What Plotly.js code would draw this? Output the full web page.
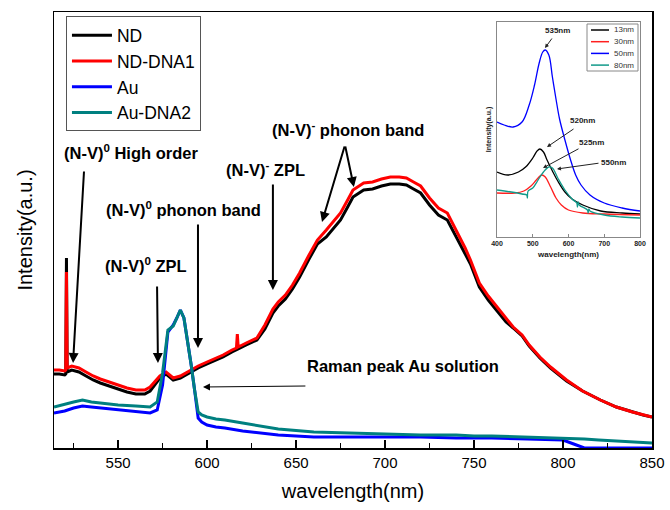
<!DOCTYPE html>
<html>
<head>
<meta charset="utf-8">
<script src="https://cdn.plot.ly/plotly-3.0.1.min.js"></script>
<style>
html,body{margin:0;padding:0;background:#fff;}
#chart{width:670px;height:510px;}
</style>
</head>
<body>
<div id="chart"></div>
<script>
// ---------- Main spectra data ----------
var ndWavelength = [514, 517, 520, 520.6, 521, 521.4, 524, 528, 532, 536, 540, 545, 550, 555, 560, 565, 568, 573.5, 577, 581, 585, 590, 595, 600, 605, 609, 614, 616.5, 617, 617.5, 622, 628, 632.5, 637, 640, 644, 648, 652, 657, 662, 667, 671, 675, 679, 682, 688, 693, 698, 703, 708, 712, 716, 720, 725, 730, 735, 740, 745, 748, 753, 758, 763, 768, 772, 777, 781, 787, 793, 802, 811, 821, 830, 839, 845, 850];
var ndIntensity = [74, 74, 73, 74, 190, 76, 78, 76, 72, 68, 65, 62, 59, 56, 54, 54, 57, 70, 74, 68, 70, 75, 80, 84, 88, 91, 96, 98, 98, 99, 103, 108, 119, 135, 142, 149, 159, 171, 188, 204, 211, 219, 228, 241, 251, 258, 259, 262, 264, 264, 263, 259, 255, 243, 233, 228, 211, 193, 184, 161, 148, 137, 126, 120, 112, 102, 90, 80, 67, 57, 48, 41, 36, 33, 31];
var ndDna1Intensity = [78, 78, 77, 78, 176, 80, 82, 80, 76, 72, 69, 66, 63, 60, 58, 58, 61, 72, 76, 70, 72, 77, 82, 86, 90, 93, 98, 100, 114, 101, 105, 110, 123, 139, 146, 153, 163, 175, 192, 208, 218, 226, 235, 248, 258, 265, 266, 269, 271, 271, 270, 266, 262, 250, 240, 235, 218, 200, 188, 165, 152, 141, 130, 121, 113, 103, 91, 81, 68, 57, 48, 41, 36, 33, 31];

var auWavelength = [514, 520, 525, 530, 535, 540, 550, 560, 568, 572, 575, 578, 581, 583, 585, 587, 589, 591, 593, 595, 597, 600, 605, 610, 620, 630, 640, 660, 680, 700, 720, 740, 750, 760, 780, 800, 806, 812, 820, 830, 840, 850];
var auIntensity = [35, 37, 40, 42, 41, 40, 38, 36, 35, 38, 63, 116, 123, 130, 138, 130, 108, 84, 58, 30, 26, 23, 21, 20, 17, 15, 13, 11, 11, 11, 11, 10, 10, 10, 9, 8, 4, 0, 0, 0, 0, 0];
var auDna2Intensity = [41, 44, 46, 48, 46, 45, 43, 42, 41, 46, 75, 118, 122, 130, 138, 130, 108, 84, 58, 36, 33, 31, 29, 28, 25, 22, 19, 16, 15, 14, 13, 13, 12, 12, 11, 10, 10, 9, 8, 7, 6, 5];

var mainNames = ["ND", "ND-DNA1", "Au", "Au-DNA2"];
var mainColors = ["#000000", "#ff0000", "#0000ff", "#008080"];

// ---------- Inset (absorption) data ----------
var inset13Wl = [400, 430, 460, 480, 500, 512, 520, 530, 540, 555, 570, 590, 610, 640, 690, 750, 800];
var inset13Val = [65, 62, 65, 70, 79, 86, 88, 85, 77, 66, 56, 45, 38, 32, 26, 24, 23];
var inset30Wl = [400, 450, 475, 495, 510, 525, 535, 550, 565, 580, 600, 640, 700, 800];
var inset30Val = [44, 44, 46, 51, 57, 62, 60, 50, 39, 32, 27, 24, 23, 22];
var inset50Wl = [400, 420, 445, 470, 490, 505, 518, 528, 535, 545, 555, 565, 575, 590, 605, 620, 635, 660, 700, 750, 800];
var inset50Val = [115, 112, 110, 115, 132, 152, 174, 185, 187, 182, 160, 138, 118, 97, 78, 62, 52, 42, 34, 29, 26];
var inset80Wl = [400, 440, 470, 483, 485, 487, 500, 515, 530, 545, 555, 570, 590, 610, 623, 625, 627, 630, 653, 655, 657, 660, 700, 750, 800];
var inset80Val = [47, 45, 43, 42, 39, 46, 49, 57, 65, 70, 69, 59, 47, 38, 34, 30, 35, 32, 27, 24, 28, 26, 22, 20, 19];
var insetNames = ["13nm", "30nm", "50nm", "80nm"];
var insetColors = ["#000000", "#ff2020", "#0000ff", "#119a8a"];

var FONT = "Liberation Sans, Arial, sans-serif";

var traces = [
  {x: ndWavelength, y: ndIntensity, name: mainNames[0], type: "scatter", mode: "lines", line: {color: mainColors[0], width: 3}},
  {x: ndWavelength, y: ndDna1Intensity, name: mainNames[1], type: "scatter", mode: "lines", line: {color: mainColors[1], width: 3}},
  {x: auWavelength, y: auIntensity, name: mainNames[2], type: "scatter", mode: "lines", line: {color: mainColors[2], width: 3}},
  {x: auWavelength, y: auDna2Intensity, name: mainNames[3], type: "scatter", mode: "lines", line: {color: mainColors[3], width: 3}}
];
var insetWls = [inset13Wl, inset30Wl, inset50Wl, inset80Wl];
var insetVals = [inset13Val, inset30Val, inset50Val, inset80Val];
for (var i = 0; i < 4; i++) {
  traces.push({x: insetWls[i], y: insetVals[i], name: insetNames[i], xaxis: "x2", yaxis: "y2",
    type: "scatter", mode: "lines", showlegend: false, line: {color: insetColors[i], width: 1.3, shape: "spline"}});
}
// invisible carrier trace for the minor-tick overlay axis
traces.push({x: [ndWavelength[0]], y: [ndIntensity[0]], xaxis: "x3", yaxis: "y", type: "scatter",
  mode: "none", showlegend: false, hoverinfo: "skip"});

function arrow(x, y, ax, ay, w, hs) {
  return {x: x, y: y, ax: ax, ay: ay, xref: "x", yref: "y", axref: "x", ayref: "y",
    text: "", showarrow: true, arrowhead: 2, arrowsize: hs || 1, arrowwidth: w || 2, arrowcolor: "#000"};
}
function label(x, y, t, size) {
  return {x: x, y: y, xref: "x", yref: "y", text: "<b>" + t + "</b>", showarrow: false,
    font: {family: FONT, size: size || 16.5, color: "#000"}, xanchor: "center", yanchor: "middle"};
}
function ilabel(x, y, t) {
  return {x: x, y: y, xref: "x2", yref: "y2", text: "<b>" + t + "</b>", showarrow: false,
    font: {family: FONT, size: 8, color: "#222"}, xanchor: "center", yanchor: "middle"};
}
function iarrow(x, y, ax, ay) {
  return {x: x, y: y, ax: ax, ay: ay, xref: "x2", yref: "y2", axref: "x2", ayref: "y2",
    text: "", showarrow: true, arrowhead: 2, arrowsize: 0.8, arrowwidth: 1, arrowcolor: "#222"};
}

var annotations = [
  label(557.3, 296, "(N-V)<sup>0</sup> High order"),
  arrow(524.7, 85, 530.9, 278),
  label(586.5, 239, "(N-V)<sup>0</sup> phonon band"),
  arrow(594.9, 100, 594.9, 225),
  label(565.7, 183, "(N-V)<sup>0</sup> ZPL"),
  arrow(572.4, 85, 571.9, 163),
  label(633.1, 279, "(N-V)<sup>-</sup> ZPL"),
  arrow(637.0, 158, 637.0, 265),
  label(679.2, 319, "(N-V)<sup>-</sup> phonon band"),
  arrow(664.6, 226, 677.5, 303),
  arrow(682.5, 261, 677.5, 303),
  label(710.1, 82, "Raman peak Au solution"),
  arrow(597.7, 61, 656.1, 62, 1, 1.4),
  ilabel(570.6, 206, "535nm"),
  iarrow(534.3, 189, 556.6, 200),
  ilabel(640.5, 116, "520nm"),
  iarrow(539.9, 90, 618.2, 109),
  ilabel(665.7, 95, "525nm"),
  iarrow(528.7, 69, 632.2, 89),
  ilabel(724.5, 75, "550nm"),
  iarrow(567.8, 68, 688.1, 74)
];

// Inset legend (drawn in paper coords inside the inset box)
var shapes = [];
var lgX0 = (591 - 54) / 598, lgX1 = (609 - 54) / 598, lgTx = (612 - 54) / 598;
shapes.push({type: "rect", xref: "paper", yref: "paper", x0: (587 - 54) / 598, x1: (638 - 54) / 598,
  y0: (448 - 71) / 436, y1: (448 - 24) / 436, line: {color: "#888", width: 1}, fillcolor: "#fff"});
for (var k = 0; k < 4; k++) {
  var py = 30 + k * 11.7;
  var yp = (448 - py) / 436;
  shapes.push({type: "line", xref: "paper", yref: "paper", x0: lgX0, x1: lgX1, y0: yp, y1: yp,
    line: {color: insetColors[k], width: 1.5}});
  annotations.push({x: lgTx, y: yp, xref: "paper", yref: "paper", text: insetNames[k], showarrow: false,
    xanchor: "left", yanchor: "middle", font: {family: FONT, size: 8, color: "#333"}});
}

var layout = {
  width: 670, height: 510,
  margin: {l: 54, r: 18, t: 12, b: 62},
  paper_bgcolor: "#fff", plot_bgcolor: "#fff",
  font: {family: FONT, color: "#000"},
  showlegend: true,
  legend: {x: 0.02, y: 0.99, xanchor: "left", yanchor: "top", bgcolor: "#fff",
    bordercolor: "#555", borderwidth: 1, font: {family: FONT, size: 17.5, color: "#000"},
    tracegroupgap: 0, itemwidth: 40},
  xaxis: {
    range: [514, 850], tick0: 500, dtick: 50, ticks: "inside", ticklen: 8, tickwidth: 1.6,
    tickcolor: "#000", showline: true, linecolor: "#000", linewidth: 1.5, mirror: true, layer: "above traces",
    showgrid: false, zeroline: false, tickfont: {family: FONT, size: 15, color: "#000"},
    title: {text: "wavelength(nm)", font: {family: FONT, size: 20, color: "#000"}, standoff: 14}
  },
  xaxis3: {
    overlaying: "x", anchor: "y", side: "bottom", range: [514, 850], tick0: 500, dtick: 25,
    ticks: "inside", ticklen: 5, tickwidth: 1.6, tickcolor: "#000", showticklabels: false,
    showline: false, showgrid: false, zeroline: false, layer: "above traces"
  },
  yaxis: {
    range: [0, 436], showticklabels: false, ticks: "", showline: true, linecolor: "#000",
    linewidth: 1.5, mirror: true, showgrid: false, zeroline: false,
    title: {text: "Intensity(a.u.)", font: {family: FONT, size: 20, color: "#000"}, standoff: 14}
  },
  xaxis2: {
    domain: [(497 - 54) / 598, (640 - 54) / 598], anchor: "y2", range: [400, 800],
    tick0: 400, dtick: 100, ticks: "inside", ticklen: 3, tickwidth: 1, tickcolor: "#888",
    showline: true, linecolor: "#888", linewidth: 1, mirror: true, showgrid: false, zeroline: false,
    tickfont: {family: FONT, size: 7, color: "#222", weight: "bold"},
    title: {text: "<b>wavelength(nm)</b>", font: {family: FONT, size: 8, color: "#222"}, standoff: 4}
  },
  yaxis2: {
    domain: [(448 - 237) / 436, (448 - 22) / 436], anchor: "x2", range: [0, 215],
    showticklabels: false, ticks: "", showline: true, linecolor: "#888", linewidth: 1, mirror: true,
    showgrid: false, zeroline: false,
    title: {text: "<b>Intensity(a.u.)</b>", font: {family: FONT, size: 7, color: "#222"}, standoff: 3}
  },
  annotations: annotations,
  shapes: shapes
};

Plotly.newPlot("chart", traces, layout, {displayModeBar: false, staticPlot: true});
</script>
</body>
</html>
